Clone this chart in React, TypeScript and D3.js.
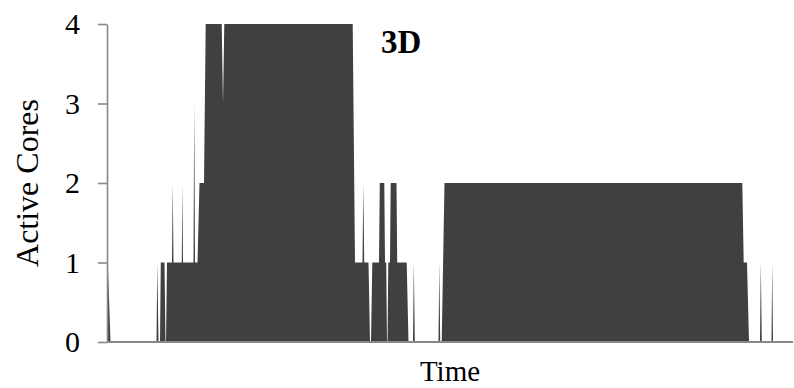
import React, { useEffect, useRef } from "react";
import * as d3 from "d3";

// Sample times (arbitrary time units) and the number of active cores at each sample.
const sampleTimes: number[] = [
  0.8, 3.5, 49.5, 50.3, 51.5, 53, 53.8, 57.5, 58.5, 59, 60, 65, 65.7, 66.5,
  74.8, 75.3, 76, 86.5, 87.2, 88, 90.5, 92.5, 97, 98.7, 114.7, 116, 117.3,
  245.7, 248, 255.5, 256.3, 257.2, 261.5, 263, 264, 265.3, 272, 272.8, 277.3,
  278, 279.2, 280, 280.5, 281.3, 283, 283.7, 289.5, 290.2, 299.7, 301.5, 306,
  306.8, 307.8, 331.5, 332.3, 333.2, 334.7, 337.5, 635.3, 636.7, 640, 642,
  653, 653.8, 654.8, 664.5, 665.2, 666, 686,
];
const activeCores: number[] = [
  1, 0, 0, 1, 0, 0, 1, 1, 0, 0, 1, 1, 2, 1,
  1, 2, 1, 1, 3, 1, 1, 2, 2, 4, 4, 3, 4,
  4, 1, 1, 2, 1, 1, 0, 0, 1, 1, 2, 2,
  1, 1, 0, 0, 1, 1, 2, 2, 1, 1, 0, 0,
  1, 0, 0, 1, 0, 0, 2, 2, 1, 1, 0,
  0, 1, 0, 0, 1, 0, 0,
];
const yTicks: number[] = [0, 1, 2, 3, 4];
const timeDomain: [number, number] = [0, 686];
const chartTitle = "3D";
const xLabel = "Time";
const yLabel = "Active Cores";

const W = 794;
const H = 388;
const margin = { left: 107, right: 1, top: 24, bottom: 46 };
const FONT = "'Liberation Serif', 'Times New Roman', serif";
const AXIS_COLOR = "#888888";
const FILL = "#404040";

export default function App() {
  const yAxisRef = useRef<SVGGElement>(null);

  const x = d3.scaleLinear().domain(timeDomain).range([margin.left, W - margin.right]);
  const y = d3.scaleLinear().domain([0, 4]).range([H - margin.bottom, margin.top]);

  const points = sampleTimes.map((t, i) => [t, activeCores[i]] as [number, number]);
  const area = d3
    .area<[number, number]>()
    .x((d) => x(d[0]))
    .y0(y(0))
    .y1((d) => y(d[1]))
    .curve(d3.curveLinear);

  useEffect(() => {
    if (!yAxisRef.current) return;
    const g = d3.select(yAxisRef.current);
    g.selectAll("*").remove();
    g.call(
      d3
        .axisLeft(y)
        .tickValues(yTicks)
        .tickFormat(d3.format("d"))
        .tickSize(9)
        .tickSizeOuter(0)
        .tickPadding(18)
    );
    g.select(".domain").attr("stroke", AXIS_COLOR).attr("stroke-width", 1.6);
    g.selectAll(".tick line").attr("stroke", AXIS_COLOR).attr("stroke-width", 1.6);
    g.selectAll(".tick text")
      .attr("fill", "#000")
      .style("font-family", FONT)
      .style("font-size", "30px");
  }, []);

  return (
    <svg width={W} height={H} style={{ position: "absolute", left: 0, top: 0 }}>
      <rect x={0} y={0} width={W} height={H} fill="#fff" />
      <path d={area(points) ?? ""} fill={FILL} />
      <g ref={yAxisRef} transform={`translate(${margin.left},0)`} />
      <line
        x1={margin.left}
        x2={W - margin.right}
        y1={y(0)}
        y2={y(0)}
        stroke={AXIS_COLOR}
        strokeWidth={1.8}
      />
      <text
        x={381}
        y={53}
        fontFamily={FONT}
        fontSize={33}
        fontWeight="bold"
        fill="#000"
      >
        {chartTitle}
      </text>
      <text
        x={(margin.left + W - margin.right) / 2}
        y={381}
        textAnchor="middle"
        fontFamily={FONT}
        fontSize={29}
        fill="#000"
      >
        {xLabel}
      </text>
      <text
        transform={`translate(38,${(margin.top + H - margin.bottom) / 2}) rotate(-90)`}
        textAnchor="middle"
        fontFamily={FONT}
        fontSize={32}
        fill="#000"
      >
        {yLabel}
      </text>
    </svg>
  );
}
